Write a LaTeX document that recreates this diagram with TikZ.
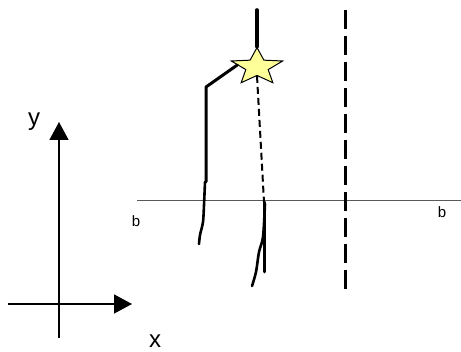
\documentclass[tikz,border=0pt]{standalone}
\usepackage{fontspec}
\setmainfont{Liberation Sans}
\usetikzlibrary{shapes.geometric, arrows.meta, positioning, calc}
\definecolor{starfill}{RGB}{255,255,153}
\tikzset{
    axis/.style = {line width=1.5pt, -{Triangle[length=18pt, width=19pt]}},
    ink/.style = {line width=3pt, line cap=round, line join=round},
    track/.style = {line width=2pt, dash pattern=on 7pt off 4pt},
    fold/.style = {line width=3pt, dash pattern=on 19pt off 7pt},
    ground/.style = {line width=1pt, draw=black!65},
    lbl/.style = {font=\fontsize{24}{28}\selectfont, inner sep=0pt},
    blbl/.style = {font=\fontsize{15}{18}\selectfont, inner sep=0pt}
}
\begin{document}
\begin{tikzpicture}[x=1pt, y=-1pt]
\useasboundingbox (0,0) rectangle (461,352);

% ---- coordinate axes (bottom-left) ----
\coordinate (ybot) at (59,338);
\coordinate (ytip) at (59,122);
\coordinate (xleft) at (8,304);
\coordinate (xtip) at (132,304);
\draw[axis] (ybot) -- (ytip);
\draw[axis] (xleft) -- (xtip);
\node[lbl] (ylab) at (34,122) {y};
\node[lbl] (xlab) at (155,341) {x};

% ---- line b--b ----
\coordinate (bl) at (137,201);
\coordinate (br) at (461,201);
\draw[ground] (bl) -- (br);
\node[blbl] (bleft) at (136,221) {b};
\node[blbl] (bright) at (442,212) {b};

% ---- dashed vertical ----
\coordinate (ftop) at (345,10);
\coordinate (fbot) at (345,295);
\draw[fold] (ftop) -- (fbot);

% ---- star ----
\node[star, star points=5, star point ratio=2.3, minimum size=54pt, inner sep=0pt,
      draw=black, line width=1pt, fill=starfill, yscale=0.72, transform shape] (star) at (257,67) {};

% ---- path to the star ----
\coordinate (top) at (257,10);
\coordinate (bend) at (206,87);
\coordinate (kneeL) at (206,182);
\coordinate (foot) at (264,202);
\coordinate (footend) at (264,272);
\draw[ink, line width=3.6pt] (top) -- (star.north);
\draw[ink] (star.172) -- (bend) -- (kneeL);
\draw[ink, line width=2.6pt] plot[smooth] coordinates {(205,182) (204,205) (203,222) (200,235) (199,244)};
\draw[track] (star.south) -- (foot);
\draw[ink] (foot) -- (footend);
\draw[ink, line width=2.6pt] plot[smooth] coordinates {(265,204) (263,237) (259,252) (256,272) (252,286)};

\end{tikzpicture}
\end{document}
